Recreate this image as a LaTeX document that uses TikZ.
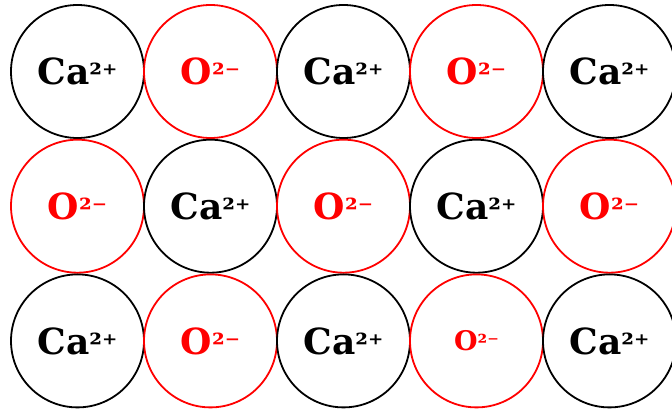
\documentclass[tikz,border=0pt]{standalone}
\usepackage{fontspec}
\setmainfont{DejaVu Serif}
\usetikzlibrary{positioning}
\newcommand{\chg}[1]{{\fontsize{29}{32}\selectfont #1}}
\tikzset{
  ion/.style={circle,draw,line width=1.8pt,minimum size=133pt,inner sep=0pt,outer sep=0pt,
    font=\bfseries\fontsize{36}{40}\selectfont},
  ca/.style={ion,draw=black,text=black},
  ox/.style={ion,draw=red,text=red},
  small/.style={font=\bfseries\fontsize{27}{30}\selectfont}
}

\begin{document}
\begin{tikzpicture}[node distance=1.7pt and 0pt]
\useasboundingbox (0,0) rectangle (672pt,-411pt);
% top row
\node[ca] (a1) at (77.5pt,-71.5pt) {Ca\chg{²⁺}};
\node[ox, right=of a1] (a2) {O\chg{²⁻}};
\node[ca, right=of a2] (a3) {Ca\chg{²⁺}};
\node[ox, right=of a3] (a4) {O\chg{²⁻}};
\node[ca, right=of a4] (a5) {Ca\chg{²⁺}};
% middle row
\node[ox, below=of a1] (b1) {O\chg{²⁻}};
\node[ca, right=of b1] (b2) {Ca\chg{²⁺}};
\node[ox, right=of b2] (b3) {O\chg{²⁻}};
\node[ca, right=of b3] (b4) {Ca\chg{²⁺}};
\node[ox, right=of b4] (b5) {O\chg{²⁻}};
% bottom row
\node[ca, below=of b1] (c1) {Ca\chg{²⁺}};
\node[ox, right=of c1] (c2) {O\chg{²⁻}};
\node[ca, right=of c2] (c3) {Ca\chg{²⁺}};
\node[ox, small, right=of c3] (c4) {O{\fontsize{22}{24}\selectfont ²⁻}};
\node[ca, right=of c4] (c5) {Ca\chg{²⁺}};
\end{tikzpicture}
\end{document}
